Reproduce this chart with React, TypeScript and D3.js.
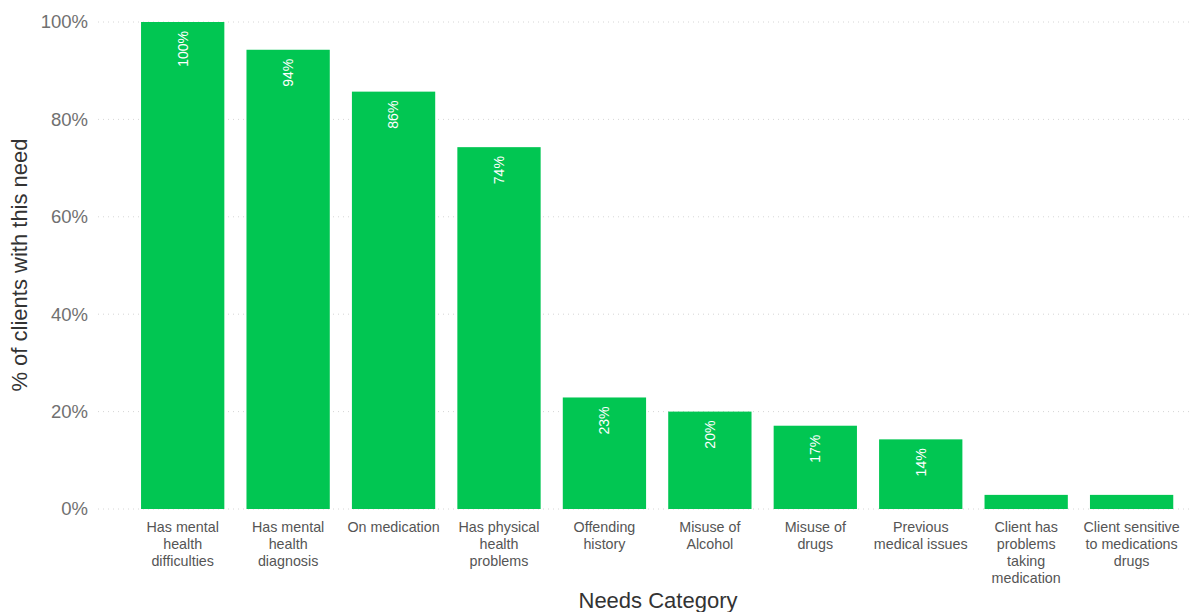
import React from "react";
import * as d3 from "d3";

const categories: string[][] = [
  ["Has mental", "health", "difficulties"],
  ["Has mental", "health", "diagnosis"],
  ["On medication"],
  ["Has physical", "health", "problems"],
  ["Offending", "history"],
  ["Misuse of", "Alcohol"],
  ["Misuse of", "drugs"],
  ["Previous", "medical issues"],
  ["Client has", "problems", "taking", "medication"],
  ["Client sensitive", "to medications", "drugs"],
];
const values: number[] = [100, 94.3, 85.7, 74.3, 22.9, 20, 17.1, 14.3, 2.9, 2.9];
const yTicks: number[] = [0, 20, 40, 60, 80, 100];

const W = 1193;
const H = 612;
const FONT = "'Liberation Sans', Arial, sans-serif";

export default function App() {
  const x = d3
    .scaleBand<number>()
    .domain(values.map((_, i) => i))
    .range([130.5, 1183.8])
    .paddingInner(0.21)
    .paddingOuter(0.1);
  const y = d3.scaleLinear().domain([0, 100]).range([509, 22]);

  return (
    <svg
      width={W}
      height={H}
      style={{ position: "absolute", left: 0, top: 0, background: "#fff" }}
      fontFamily={FONT}
    >
      {yTicks.map((t) => (
        <g key={t}>
          <line
            x1={98}
            x2={1190}
            y1={y(t)}
            y2={y(t)}
            stroke="#d6d6d6"
            strokeWidth={1}
            strokeDasharray="1,4"
          />
          <text
            x={88}
            y={y(t)}
            dy="0.35em"
            textAnchor="end"
            fontSize={18.5}
            fill="#707070"
          >
            {t}%
          </text>
        </g>
      ))}
      {values.map((v, i) => {
        const bx = x(i)!;
        const bw = x.bandwidth();
        const top = y(v);
        return (
          <g key={i}>
            <rect x={bx} y={top} width={bw} height={y(0) - top} fill="#01C652" />
            {v >= 10 && (
              <text
                transform={`translate(${bx + bw / 2},${top + 9}) rotate(-90)`}
                textAnchor="end"
                dy="0.35em"
                fontSize={14}
                fill="#fff"
              >
                {Math.round(v)}%
              </text>
            )}
            <text
              x={bx + bw / 2}
              y={527}
              textAnchor="middle"
              fontSize={14.3}
              fill="#555"
            >
              {categories[i].map((line, j) => (
                <tspan key={j} x={bx + bw / 2} dy={j === 0 ? "0.35em" : 17}>
                  {line}
                </tspan>
              ))}
            </text>
          </g>
        );
      })}
      <text x={658} y={600} dy="0.35em" textAnchor="middle" fontSize={22} fill="#333">
        Needs Category
      </text>
      <text
        transform={`translate(19,265) rotate(-90)`}
        textAnchor="middle"
        dy="0.35em"
        fontSize={22}
        fill="#333"
      >
        % of clients with this need
      </text>
    </svg>
  );
}
